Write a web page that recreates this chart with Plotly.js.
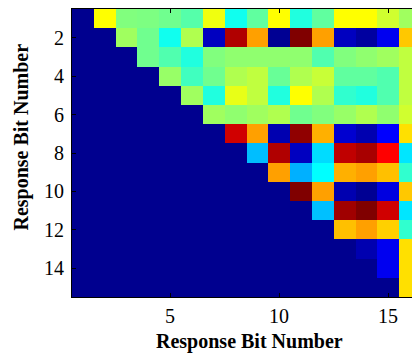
<!DOCTYPE html>
<html>
<head>
<meta charset="utf-8">
<script src="https://cdn.plot.ly/plotly-3.0.1.min.js"></script>
<style>html,body{margin:0;padding:0;background:#fff;overflow:hidden}</style>
</head>
<body>
<div id="chart" style="width:412px;height:356px"></div>
<script>
// Response bit indices
const xBits = [1,2,3,4,5,6,7,8,9,10,11,12,13,14,15,16];
const yBits = [1,2,3,4,5,6,7,8,9,10,11,12,13,14,15];
const xTickVals = [5,10,15];
const yTickVals = [2,4,6,8,10,12,14];

// Rows of the (upper-triangular) matrix, values
const r01 = [0,0.619,0.493,0.490,0.477,0.450,0.604,0.381,0.461,0.619,0.397,0.461,0.619,0.619,0.572,0.524];
const r02 = [0,0,0.524,0.477,0.381,0.540,0.049,0.952,0.714,0.004,1.000,0.714,0.049,0.017,0.096,0.674];
const r03 = [0,0,0,0.477,0.445,0.397,0.493,0.508,0.508,0.508,0.508,0.445,0.493,0.508,0.524,0.556];
const r04 = [0,0,0,0,0.516,0.429,0.477,0.540,0.556,0.469,0.540,0.564,0.461,0.461,0.445,0.556];
const r05 = [0,0,0,0,0,0.524,0.397,0.596,0.556,0.397,0.619,0.540,0.413,0.397,0.445,0.556];
const r06 = [0,0,0,0,0,0,0.524,0.508,0.524,0.540,0.477,0.493,0.516,0.540,0.508,0.572];
const r07 = [0,0,0,0,0,0,0,0.920,0.714,0.033,0.984,0.698,0.064,0.033,0.111,0.650];
const r08 = [0,0,0,0,0,0,0,0,0.300,0.952,0.049,0.330,0.936,0.960,0.873,0.340];
const r09 = [0,0,0,0,0,0,0,0,0,0.714,0.286,0.365,0.698,0.714,0.682,0.413];
const r10 = [0,0,0,0,0,0,0,0,0,0,1.000,0.714,0.033,0.004,0.080,0.674];
const r11 = [0,0,0,0,0,0,0,0,0,0,0,0.302,0.968,1.000,0.920,0.340];
const r12 = [0,0,0,0,0,0,0,0,0,0,0,0,0.682,0.714,0.666,0.413];
const r13 = [0,0,0,0,0,0,0,0,0,0,0,0,0,0.033,0.096,0.650];
const r14 = [0,0,0,0,0,0,0,0,0,0,0,0,0,0,0.096,0.650];
const r15 = [0,0,0,0,0,0,0,0,0,0,0,0,0,0,0,0.650];

const zRows = [r01,r02,r03,r04,r05,r06,r07,r08,r09,r10,r11,r12,r13,r14,r15];

// MATLAB jet colormap
const jetScale = [
  [0, 'rgb(0,0,143)'],
  [0.111, 'rgb(0,0,255)'],
  [0.365, 'rgb(0,255,255)'],
  [0.619, 'rgb(255,255,0)'],
  [0.873, 'rgb(255,0,0)'],
  [1, 'rgb(128,0,0)']
];

const trace = {
  type: 'heatmap',
  x: xBits,
  y: yBits,
  z: zRows,
  zmin: 0,
  zmax: 1,
  colorscale: jetScale,
  showscale: false,
  hoverinfo: 'x+y+z'
};

const tickFont = {family: 'Liberation Serif, Times New Roman, serif', size: 20, color: '#000'};
const titleFont = {family: 'Liberation Serif, Times New Roman, serif', size: 20, color: '#000', weight: 'bold'};

const layout = {
  width: 412,
  height: 356,
  margin: {l: 72, r: 0, t: 9, b: 59},
  paper_bgcolor: '#fff',
  plot_bgcolor: '#fff',
  xaxis: {
    range: [0.5, 16.1],
    tickvals: xTickVals,
    ticks: 'inside',
    ticklen: 4,
    tickcolor: '#000',
    showline: true,
    linecolor: '#000',
    linewidth: 1,
    mirror: 'ticks',
    showgrid: false,
    zeroline: false,
    tickfont: tickFont,
    ticklabelstandoff: 1
  },
  yaxis: {
    range: [15.5, 0.5],
    tickvals: yTickVals,
    ticks: 'inside',
    ticklen: 4,
    tickcolor: '#000',
    showline: true,
    linecolor: '#000',
    linewidth: 1,
    mirror: false,
    showgrid: false,
    zeroline: false,
    tickfont: tickFont,
    ticklabelstandoff: 3
  },
  annotations: [
    {text: '<b>Response Bit Number</b>', xref: 'paper', yref: 'paper', x: 0.5235, y: -0.156,
     xanchor: 'center', yanchor: 'middle', showarrow: false, font: titleFont},
    {text: '<b>Response Bit Number</b>', xref: 'paper', yref: 'paper', x: -0.148, y: 0.556,
     xanchor: 'center', yanchor: 'middle', textangle: -90, showarrow: false, font: titleFont}
  ]
};

Plotly.newPlot('chart', [trace], layout, {displayModeBar: false, staticPlot: true});
</script>
</body>
</html>
